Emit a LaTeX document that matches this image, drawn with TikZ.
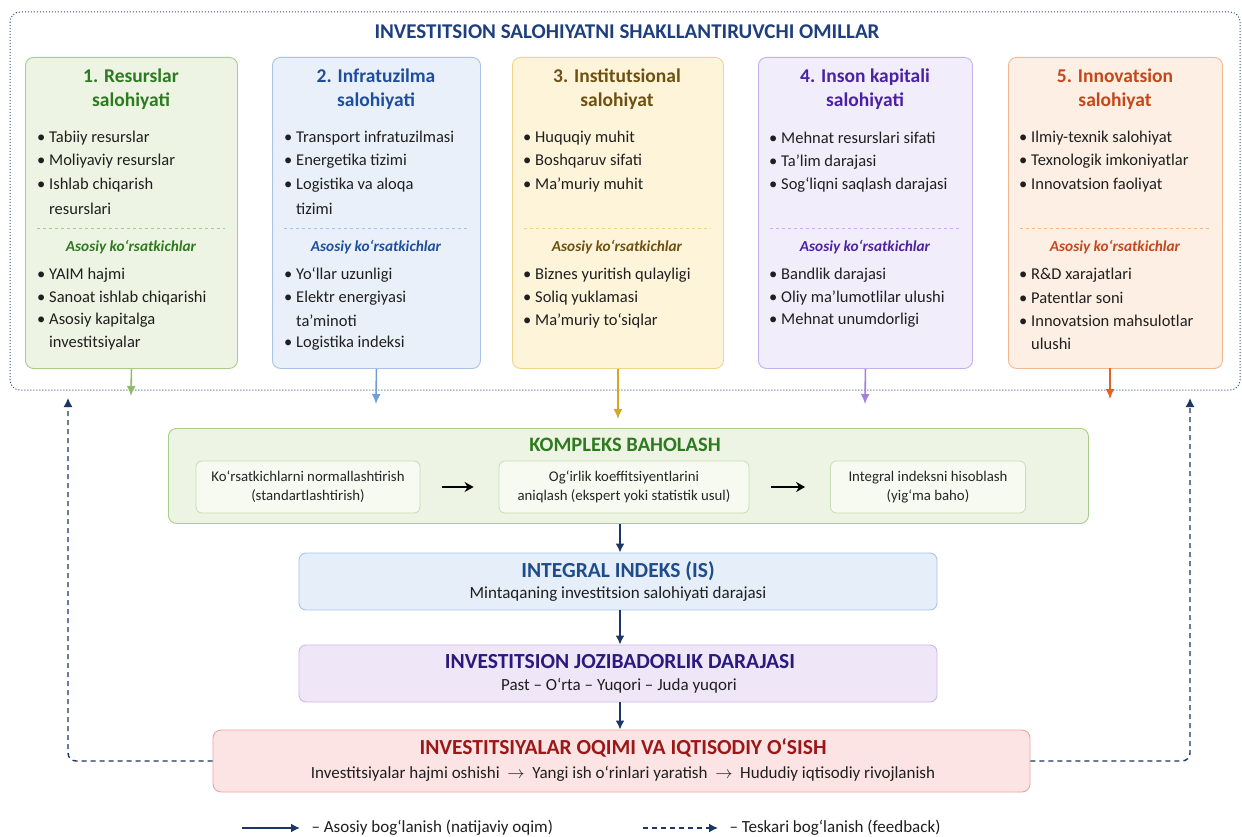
\documentclass[tikz,border=0pt]{standalone}
\usepackage{fontspec}
\setmainfont{Carlito}
\usetikzlibrary{arrows.meta}
\definecolor{outc}{HTML}{34507E}
\definecolor{titc}{HTML}{1E3F7E}
\definecolor{navy}{HTML}{1C3765}
\definecolor{gfill}{HTML}{EEF4E3}\definecolor{gdraw}{HTML}{A9CC8C}\definecolor{gtxt}{HTML}{2D7A1F}\definecolor{garr}{HTML}{8FBC6B}
\definecolor{bfill}{HTML}{E9F0FA}\definecolor{bdraw}{HTML}{A7C3E8}\definecolor{btxt}{HTML}{1F4E9D}\definecolor{barr}{HTML}{6F9FD8}
\definecolor{yfill}{HTML}{FDF4DA}\definecolor{ydraw}{HTML}{EFD48C}\definecolor{ytxt}{HTML}{6E5010}\definecolor{yarr}{HTML}{D4A820}
\definecolor{pfill}{HTML}{F2EDFB}\definecolor{pdraw}{HTML}{C3B1EA}\definecolor{ptxt}{HTML}{4A22A3}\definecolor{parr}{HTML}{A47FE0}
\definecolor{ofill}{HTML}{FDEFE4}\definecolor{odraw}{HTML}{F2B990}\definecolor{otxt}{HTML}{C4471B}\definecolor{oarr}{HTML}{E0632A}
\definecolor{ifill}{HTML}{E5EEF9}\definecolor{idraw}{HTML}{A9C5E8}\definecolor{itxt}{HTML}{1F4D8C}
\definecolor{jfill}{HTML}{EFE7F8}\definecolor{jdraw}{HTML}{CDB8EA}\definecolor{jtxt}{HTML}{2A1A7E}
\definecolor{rfill}{HTML}{FDE4E4}\definecolor{rdraw}{HTML}{EFA3A3}\definecolor{rtxt}{HTML}{9C1717}
\definecolor{kin}{HTML}{F7FAF1}\definecolor{kindraw}{HTML}{C9DCB3}
\newcommand{\myb}{\makebox[12pt][l]{\textbullet}}
\newcommand{\myi}{\hspace*{12pt}}
\begin{document}
\begin{tikzpicture}[x=1pt,y=-1pt,
  fbox/.style={draw, rounded corners=8pt, line width=0.9pt, minimum width=#1, minimum height=311pt, anchor=north west, inner sep=0pt},
  ftitle/.style={align=center, font=\fontsize{19.5}{24}\selectfont\bfseries},
  item/.style={anchor=west, font=\fontsize{16.5}{18}\selectfont, inner sep=0pt, text=black!88},
  sub/.style={font=\fontsize{15.3}{17}\selectfont\bfseries\itshape},
  arr/.style={line width=1.6pt, -{Latex[length=10pt,width=9pt]}},
  mainarr/.style={navy, line width=1.8pt, -{Latex[length=9pt,width=9pt]}},
  fb/.style={navy, line width=1.4pt, dash pattern=on 5pt off 4pt, rounded corners=8pt, -{Latex[length=9pt,width=9pt]}},
  wbox/.style={draw, rounded corners=7pt, line width=0.9pt, minimum width=638pt, minimum height=57pt, inner sep=0pt},
  kbox/.style={draw=kindraw, fill=kin, rounded corners=6pt, line width=0.8pt, minimum height=52pt, align=center, font=\fontsize{14.8}{19}\selectfont, text=black!85},
  btitle/.style={font=\fontsize{21.5}{23}\selectfont\bfseries},
  bsub/.style={font=\fontsize{17}{19}\selectfont, text=black!88}
]
\useasboundingbox (0,0) rectangle (1242,837);
\fill[white] (0,0) rectangle (1242,837);

% outer dotted frame
\draw[outc, dotted, line width=1pt, rounded corners=10pt] (10,12) rectangle (1240,390);
\node[titc, font=\fontsize{21}{23}\selectfont\bfseries] (title) at (627,32) {INVESTITSION SALOHIYATNI SHAKLLANTIRUVCHI OMILLAR};

% factor boxes
\node[fbox=212pt, draw=gdraw, fill=gfill] (f1) at (25,57) {};
\node[fbox=208pt, draw=bdraw, fill=bfill] (f2) at (272,57) {};
\node[fbox=211pt, draw=ydraw, fill=yfill] (f3) at (512,57) {};
\node[fbox=214pt, draw=pdraw, fill=pfill] (f4) at (758,57) {};
\node[fbox=214pt, draw=odraw, fill=ofill] (f5) at (1008,57) {};

\node[ftitle, gtxt] (t1) at (131,89) {1. Resurslar\\salohiyati};
\node[ftitle, btxt] (t2) at (376,89) {2. Infratuzilma\\salohiyati};
\node[ftitle, ytxt] (t3) at (617,89) {3. Institutsional\\salohiyat};
\node[ftitle, ptxt] (t4) at (865,89) {4. Inson kapitali\\salohiyati};
\node[ftitle, otxt] (t5) at (1115,89) {5. Innovatsion\\salohiyat};

% separators
\draw[gdraw, dashed, line width=0.7pt] (37,228) -- (225,228);
\draw[bdraw, dashed, line width=0.7pt] (284,228) -- (468,228);
\draw[ydraw, dashed, line width=0.7pt] (524,228) -- (711,228);
\draw[pdraw, dashed, line width=0.7pt] (770,228) -- (960,228);
\draw[odraw, dashed, line width=0.7pt] (1020,228) -- (1210,228);

\node[sub, gtxt] (s1) at (131,247) {Asosiy ko‘rsatkichlar};
\node[sub, btxt] (s2) at (376,247) {Asosiy ko‘rsatkichlar};
\node[sub, ytxt] (s3) at (617,247) {Asosiy ko‘rsatkichlar};
\node[sub, ptxt] (s4) at (865,247) {Asosiy ko‘rsatkichlar};
\node[sub, otxt] (s5) at (1115,247) {Asosiy ko‘rsatkichlar};

% items
\foreach \t [count=\i] in {\myb Tabiiy resurslar,\myb Moliyaviy resurslar,\myb Ishlab chiqarish,\myi resurslari}
  \node[item] (a1\i) at (37,{138+23.6*(\i-1)}) {\t};
\foreach \t [count=\i] in {\myb YAIM hajmi,\myb Sanoat ishlab chiqarishi,\myb Asosiy kapitalga,\myi investitsiyalar}
  \node[item] (b1\i) at (37,{275+22.8*(\i-1)}) {\t};
\foreach \t [count=\i] in {\myb Transport infratuzilmasi,\myb Energetika tizimi,\myb Logistika va aloqa,\myi tizimi}
  \node[item] (a2\i) at (284,{138+23.6*(\i-1)}) {\t};
\foreach \t [count=\i] in {\myb Yo‘llar uzunligi,\myb Elektr energiyasi,\myi ta’minoti,\myb Logistika indeksi}
  \node[item] (b2\i) at (284,{275+22.8*(\i-1)}) {\t};
\foreach \t [count=\i] in {\myb Huquqiy muhit,\myb Boshqaruv sifati,\myb Ma’muriy muhit}
  \node[item] (a3\i) at (523,{138+23.6*(\i-1)}) {\t};
\foreach \t [count=\i] in {\myb Biznes yuritish qulayligi,\myb Soliq yuklamasi,\myb Ma’muriy to‘siqlar}
  \node[item] (b3\i) at (523,{275+22.8*(\i-1)}) {\t};
\foreach \t [count=\i] in {\myb Mehnat resurslari sifati,\myb Ta’lim darajasi,\myb Sog‘liqni saqlash darajasi}
  \node[item] (a4\i) at (769,{138+23.6*(\i-1)}) {\t};
\foreach \t [count=\i] in {\myb Bandlik darajasi,\myb Oliy ma’lumotlilar ulushi,\myb Mehnat unumdorligi}
  \node[item] (b4\i) at (769,{275+22.8*(\i-1)}) {\t};
\foreach \t [count=\i] in {\myb Ilmiy-texnik salohiyat,\myb Texnologik imkoniyatlar,\myb Innovatsion faoliyat}
  \node[item] (a5\i) at (1019,{138+23.6*(\i-1)}) {\t};
\foreach \t [count=\i] in {\myb R\&D xarajatlari,\myb Patentlar soni,\myb Innovatsion mahsulotlar,\myi ulushi}
  \node[item] (b5\i) at (1019,{275+22.8*(\i-1)}) {\t};

% kompleks baholash
\node[draw=gdraw, fill=gfill, rounded corners=8pt, line width=0.9pt, minimum width=920pt, minimum height=95pt, anchor=north west, inner sep=0pt] (kb) at (168,428) {};
\node[gtxt, font=\fontsize{20.5}{22}\selectfont\bfseries] (kt) at (625,445) {KOMPLEKS BAHOLASH};
\node[kbox, minimum width=224pt] (k1) at (308,487) {Ko‘rsatkichlarni normallashtirish\\(standartlashtirish)};
\node[kbox, minimum width=250pt] (k2) at (624,487) {Og‘irlik koeffitsiyentlarini\\aniqlash (ekspert yoki statistik usul)};
\node[kbox, minimum width=195pt] (k3) at (928,487) {Integral indeksni hisoblash\\(yig‘ma baho)};
\draw[black, line width=2pt, -{Stealth[length=9pt,width=10pt]}, shorten <=22pt, shorten >=25pt] (k1) -- (k2);
\draw[black, line width=2pt, -{Stealth[length=9pt,width=10pt]}, shorten <=22pt, shorten >=25pt] (k2) -- (k3);

% factor arrows
\coordinate (e1) at (131,396);
\coordinate (e2) at (376,404);
\coordinate (e4) at (865,404);
\coordinate (e5) at (1110,399);
\draw[arr, garr] (f1.south) -- (e1);
\draw[arr, barr] (f2.south) -- (e2);
\draw[arr, yarr, shorten >=9pt] (f3.south) -- (f3.south |- kb.north);
\draw[arr, parr] (f4.south) -- (e4);
\draw[arr, oarr] (1110,368) -- (e5);

% integral indeks
\node[wbox, draw=idraw, fill=ifill] (ii) at (618,581.5) {};
\node[btitle, itxt] (iit) at (618,571) {INTEGRAL INDEKS (IS)};
\node[bsub] (iis) at (618,594) {Mintaqaning investitsion salohiyati darajasi};

% jozibadorlik
\node[wbox, draw=jdraw, fill=jfill] (jj) at (618,673.5) {};
\node[btitle, jtxt] (jjt) at (620,662) {INVESTITSION JOZIBADORLIK DARAJASI};
\node[bsub] (jjs) at (619,686) {Past – O‘rta – Yuqori – Juda yuqori};

% bottom
\node[draw=rdraw, fill=rfill, rounded corners=8pt, line width=0.9pt, minimum width=817pt, minimum height=62pt, inner sep=0pt] (ob) at (621.5,761) {};
\node[btitle, rtxt] (obt) at (623,748) {INVESTITSIYALAR OQIMI VA IQTISODIY O‘SISH};
\node[bsub] (obs) at (623,774) {Investitsiyalar hajmi oshishi \ $\rightarrow$ \ Yangi ish o‘rinlari yaratish \ $\rightarrow$ \ Hududiy iqtisodiy rivojlanish};

% main arrows
\draw[mainarr] (kb.south -| 620,0) -- (ii.north -| 620,0);
\draw[mainarr] (ii.south -| 620,0) -- (jj.north -| 620,0);
\draw[mainarr] (jj.south -| 620,0) -- (ob.north -| 620,0);

% feedback
\coordinate (fl) at (68,398);
\coordinate (fr) at (1190,398);
\draw[fb] (ob.west) -| (fl);
\draw[fb] (ob.east) -| (fr);

% legend
\coordinate (l1a) at (242,828);\coordinate (l1b) at (300,828);
\coordinate (l2a) at (643,828);\coordinate (l2b) at (718,828);
\draw[mainarr] (l1a) -- (l1b);
\node[anchor=west, font=\fontsize{17}{19}\selectfont, text=black!88] (lg1) at (308,828) {– Asosiy bog‘lanish (natijaviy oqim)};
\draw[navy, line width=1.4pt, dash pattern=on 5pt off 4pt, -{Latex[length=9pt,width=9pt]}] (l2a) -- (l2b);
\node[anchor=west, font=\fontsize{17}{19}\selectfont, text=black!88] (lg2) at (726,828) {– Teskari bog‘lanish (feedback)};
\end{tikzpicture}
\end{document}
